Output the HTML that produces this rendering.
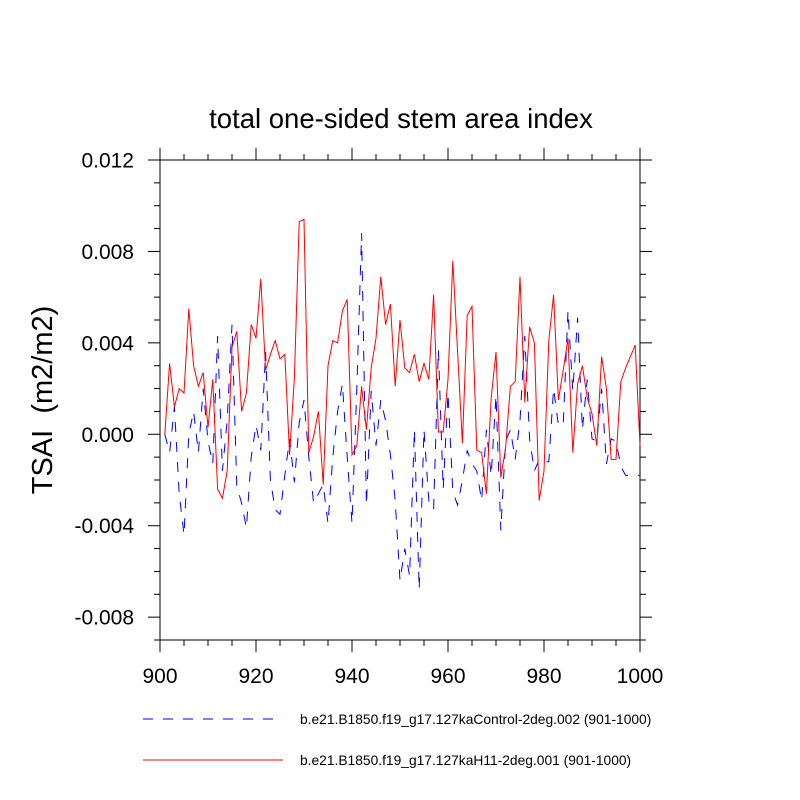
<!DOCTYPE html>
<html><head><meta charset="utf-8"><style>body{margin:0;background:#fff}svg{display:block;font-family:"Liberation Sans",sans-serif}</style></head>
<body>
<svg id="chart" width="800" height="800" xmlns="http://www.w3.org/2000/svg">
<text x="401" y="128" text-anchor="middle" font-size="27.5">total one-sided stem area index</text>
<text transform="translate(52,400) rotate(-90)" text-anchor="middle" font-size="29" xml:space="preserve">TSAI  (m2/m2)</text>
<g id="axes"></g>
<g id="series"></g>
<line x1="143" y1="719" x2="280" y2="719" stroke="#00f" stroke-width="1" stroke-dasharray="10,10"/>
<text x="300" y="724" font-size="13.8">b.e21.B1850.f19_g17.127kaControl-2deg.002 (901-1000)</text>
<line x1="143" y1="760" x2="283" y2="760" stroke="#f00" stroke-width="1"/>
<text x="300" y="765" font-size="13.8">b.e21.B1850.f19_g17.127kaH11-2deg.001 (901-1000)</text>
</svg>
<script>
const years=[];for(let y=901;y<=1000;y++)years.push(y);
const xTicks=[900,920,940,960,980,1000];
const yTicks=[-0.008,-0.004,0.000,0.004,0.008,0.012];
const yTickLabels=["-0.008","-0.004","0.000","0.004","0.008","0.012"];
const redVals=[0,0.0031,0.0012,0.002,0.0018,0.0055,0.003,0.0021,0.0027,0.0003,0.0024,-0.0024,-0.0028,-0.0016,0.0038,0.0045,0.001,0.0018,0.0048,0.0042,0.0068,0.0028,0.0035,0.0041,0.0033,0.0035,-0.0009,0.0025,0.0093,0.0094,-0.0008,-0.0001,0.001,-0.0022,0.003,0.0041,0.004,0.0054,0.0059,-0.0009,-0.0005,0.0021,0.0002,0.0029,0.0042,0.0069,0.0048,0.0057,0.0021,0.005,0.0029,0.0027,0.0035,0.0023,0.0031,0.0024,0.0061,0.0001,0.0001,0.0024,0.0076,
0.0036,-0.0004,0.0052,0.0056,-0.0007,-0.0008,-0.0026,0.0016,0.0036,-0.0019,-0.0006,0.0021,0.0023,0.0069,
0.0014,0.0047,0.004,-0.0029,-0.0016,0.0041,0.0061,0.0015,0.0028,0.0042,-0.0008,0.0022,0.003,0.0016,0.0009,-0.0005,0.0034,0.002,-0.0011,-0.0011,0.0023,0.0029,0.0034,0.0039,-0.0005];
const blueVals=[0,-0.0008,0.0012,-0.0026,-0.0044,0,0.001,-0.0008,0.002,-0.0003,-0.0013,0.0043,
-0.0016,0.0006,
0.0048,-0.0023,-0.003,-0.0041,-0.001,0.0004,-0.0007,0.0036,-0.002,-0.0033,-0.0035,-0.0018,-0.0002,-0.0021,0.0005,0.0015,-0.001,-0.003,-0.0026,-0.0022,-0.0039,-0.001,0.001,0.0022,-0.001,-0.0039,0.002,0.0088,
-0.0031,0.0019,-0.0005,0.0015,0.0006,-0.0009,-0.0029,-0.0064,-0.005,-0.0062,0.0002,-0.0068,0.0002,-0.0029,-0.0033,0.0037,-0.0024,0.0018,-0.0025,-0.0031,-0.002,-0.0007,-0.0013,-0.0016,-0.0029,0.0002,-0.0018,0.0017,-0.0042,-0.0003,0.0002,-0.0011,0.0006,0.0043,-0.0002,-0.0016,-0.0011,-0.0012,-0.0012,0.002,0.0004,0.0004,0.0054,0.0019,0.0051,0.0002,0.0024,-0.0002,-0.0003,0.002,-0.0013,-0.0002,-0.0003,-0.0014,-0.0018,-0.0018,-0.0018,-0.0018];
const X0=160,X1=640,Y0=160,Y1=640,XMIN=900,XMAX=1000,YMIN=-0.009,YMAX=0.012;
const xs=v=>X0+(v-XMIN)/(XMAX-XMIN)*(X1-X0);
const ys=v=>Y1-(v-YMIN)/(YMAX-YMIN)*(Y1-Y0);
const NS="http://www.w3.org/2000/svg";
const axes=document.getElementById('axes'),ser=document.getElementById('series');
function mk(tag,at,par){const e=document.createElementNS(NS,tag);for(const k in at)e.setAttribute(k,at[k]);par.appendChild(e);return e;}
const frame=mk('rect',{x:X0,y:Y0,width:X1-X0,height:Y1-Y0,fill:'none',stroke:'#000','stroke-width':1},axes);


for(let v=900;v<=1000;v+=5){const x=xs(v),L=(v%20===0)?12:6;
 mk('line',{x1:x,y1:Y1,x2:x,y2:Y1+L,stroke:'#000'},axes);mk('line',{x1:x,y1:Y0,x2:x,y2:Y0-L,stroke:'#000'},axes);}
for(let i=-9;i<=12;i++){const v=i/1000,y=ys(v),L=(i%4===0)?12:6;
 mk('line',{x1:X0,y1:y,x2:X0-L,y2:y,stroke:'#000'},axes);mk('line',{x1:X1,y1:y,x2:X1+L,y2:y,stroke:'#000'},axes);}
xTicks.forEach(v=>{const t=mk('text',{x:xs(v),y:Y1+43,'text-anchor':'middle','font-size':21},axes);t.textContent=v;
 
 });
yTicks.forEach((v,i)=>{const t=mk('text',{x:X0-26,y:ys(v)+7.5,'text-anchor':'end','font-size':21},axes);t.textContent=yTickLabels[i];
 
 });
function line(vals,color,dash,name){const d=vals.map((v,i)=>(i?'L':'M')+xs(years[i]).toFixed(1)+','+ys(v).toFixed(1)).join('');
 const p=mk('path',{d:d,fill:'none',stroke:color,'stroke-width':1},ser);if(dash)p.setAttribute('stroke-dasharray',dash);
 
 }
line(blueVals,'#00f','10,10','series-control');
line(redVals,'#f00',null,'series-h11');
</script>
</body></html>
